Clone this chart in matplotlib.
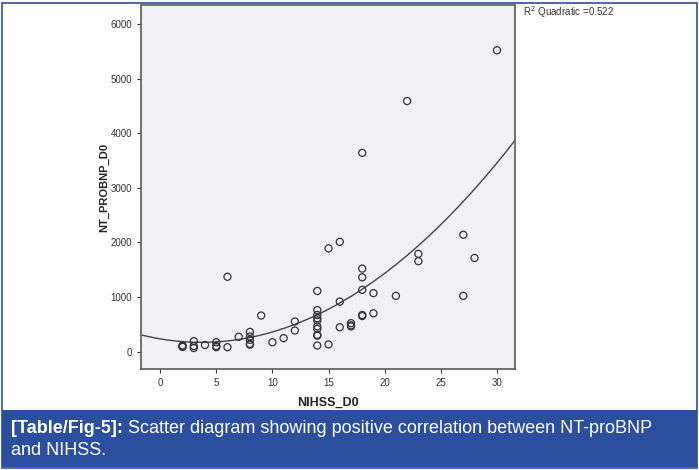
import numpy as np
from matplotlib import pyplot as plt
from matplotlib.patches import Rectangle

# NIHSS score at day 0 and NT-proBNP at day 0
nihss = [2, 2, 2, 3, 3, 3, 4, 5, 5, 5, 6, 6, 7,
         8, 8, 8, 8, 8, 9, 10, 11, 12, 12,
         14, 14, 14, 14, 14, 14, 14, 14, 14, 14,
         15, 15, 16, 16, 16, 17, 17, 17,
         18, 18, 18, 18, 18, 18, 19, 19, 21, 22, 23, 23,
         27, 27, 28, 30]
ntprobnp = [110, 95, 85, 190, 100, 65, 120, 170, 100, 80, 80, 1370, 270,
            360, 275, 215, 140, 125, 660, 170, 245, 550, 385,
            1110, 760, 670, 610, 570, 460, 415, 305, 290, 110,
            1890, 130, 2010, 915, 445, 520, 480, 460,
            3640, 1520, 1360, 1130, 670, 650, 1070, 700, 1020, 4590, 1790, 1655,
            2140, 1020, 1715, 5520]
x_ticks = [0, 5, 10, 15, 20, 25, 30]
y_ticks = [0, 1000, 2000, 3000, 4000, 5000, 6000]
caption_bold = "[Table/Fig-5]:"
caption_rest = "Scatter diagram showing positive correlation between NT-proBNP"
caption_line2 = "and NIHSS."

plt.rcParams['font.family'] = ['Liberation Sans', 'DejaVu Sans']

fig = plt.figure(figsize=(6.99, 4.70), dpi=100)

# outer frame and caption band
fig.patches.append(Rectangle((0.003, 0.004), 0.994, 0.99, transform=fig.transFigure,
                             fill=False, edgecolor='#2b4f9c', linewidth=1.2))
fig.patches.append(Rectangle((0.003, 0.006), 0.994, 0.122, transform=fig.transFigure,
                             facecolor='#2b4f9c', edgecolor='none'))

ax = fig.add_axes([0.2017, 0.2149, 0.535, 0.7745])
ax.set_facecolor('#f1f0f3')

# quadratic fit through the points
coef = np.polyfit(nihss, ntprobnp, 2)
xs = np.linspace(-1.7, 31.6, 200)
ax.plot(xs, np.polyval(coef, xs), color='#444444', linewidth=1.0)

ax.scatter(nihss, ntprobnp, s=26, facecolors='none', edgecolors='#333333', linewidths=0.9, zorder=3)

ax.set_xlim(-1.7, 31.6)
ax.set_ylim(-320, 6350)
ax.set_xticks(x_ticks)
ax.set_yticks(y_ticks)
ax.tick_params(direction='out', length=3, width=0.8, labelsize=7, colors='#333333')
for s in ['top', 'right', 'left', 'bottom']:
    ax.spines[s].set_color('#666666')
    ax.spines[s].set_linewidth(1.3)

ax.set_xlabel("NIHSS_D0", fontsize=9, fontweight='bold', color='#222222', labelpad=6)
ax.set_ylabel("NT_PROBNP_D0", fontsize=8, fontweight='bold', color='#222222', labelpad=1)

fig.text(0.748, 0.975, "R$^2$ Quadratic =0.522", fontsize=7, color='#333333', va='center')

t = fig.text(0.016, 0.079, caption_bold + " ", fontsize=13, fontweight='bold', color='white', va='baseline')
fig.canvas.draw()
bb = t.get_window_extent()
fig.text(bb.x1 / fig.bbox.width, 0.079, caption_rest, fontsize=13, color='white', va='baseline')
fig.text(0.016, 0.032, caption_line2, fontsize=13, color='white', va='baseline')

fig.savefig("out.png", dpi=100)
